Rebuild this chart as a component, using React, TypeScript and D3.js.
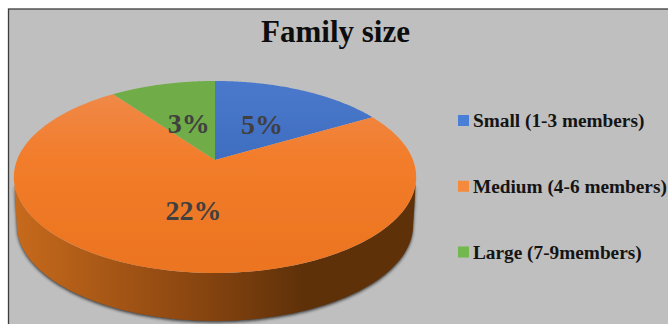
import React from "react";
import * as d3 from "d3";

const categories = ["Small (1-3 members)", "Medium (4-6 members)", "Large (7-9members)"];
const values = [5, 22, 3];
const valueLabels = ["5%", "22%", "3%"];
const sliceFills = ["url(#smallFill)", "url(#mediumFill)", "#6fac46"];
const legendColors = ["#4a7fd8", "#f58a3c", "#72b84e"];
const chartTitle = "Family size";

const WIDTH = 668;
const HEIGHT = 324;
const SERIF = "'Liberation Serif', serif";

// The pie lies on a tilted plane: a point on the unit disc is foreshortened towards the back.
const apex = { x: 215, y: 160 };
const spreadX = 198;
const spreadY = 93;
const tilt = 0.177;
const depth = 48;
const baseShrink = 0.985;

const project = (r: number, angle: number): [number, number] => {
  const u = r * Math.sin(angle);
  const v = r * Math.cos(angle);
  const w = 1 + tilt * v;
  return [apex.x + (spreadX * u) / w, apex.y - (spreadY * v) / w];
};

const rimPoints = (a0: number, a1: number) =>
  d3.range(0, 121).map((i) => project(1, a0 + ((a1 - a0) * i) / 120));

const line = d3.line<[number, number]>();

const arcs = d3.pie<number>().sort(null).startAngle(0).endAngle(2 * Math.PI)(values);

// Front wall of the extruded disc; its lower rim sits slightly inside the upper one.
const wallTop = rimPoints(Math.PI * 0.5 + 0.18, Math.PI * 1.5 - 0.18);
const wallBottom = wallTop
  .slice()
  .reverse()
  .map(([x, y]) => [apex.x + (x - apex.x) * baseShrink, y + depth] as [number, number]);
const wallPath = line([...wallTop, ...wallBottom]) + "Z";

// Offsets of each percentage from its slice's mid-angle anchor.
const labelSpots = [
  { r: 0.5, dx: 1, dy: 5 },
  { r: 0.32, dx: -7.5, dy: 23 },
  { r: 0.62, dx: 8, dy: 16 },
];

export default function App() {
  const legendY = d3.scalePoint<number>().domain([0, 1, 2]).range([120.5, 252]);
  return (
    <svg
      width={WIDTH}
      height={HEIGHT}
      viewBox={`0 0 ${WIDTH} ${HEIGHT}`}
      style={{ position: "absolute", left: 0, top: 0, display: "block" }}
    >
      <defs>
        <linearGradient id="wall" x1="14" x2="416" y1="0" y2="0" gradientUnits="userSpaceOnUse">
          <stop offset="0" stopColor="#c76a1c" />
          <stop offset="0.45" stopColor="#8a4610" />
          <stop offset="0.72" stopColor="#5f3109" />
          <stop offset="1" stopColor="#5f3109" />
        </linearGradient>
        <linearGradient id="mediumFill" x1="0" x2="0" y1="85" y2="273" gradientUnits="userSpaceOnUse">
          <stop offset="0" stopColor="#ef8a4c" />
          <stop offset="0.4" stopColor="#f27c2a" />
          <stop offset="1" stopColor="#ec7420" />
        </linearGradient>
        <linearGradient id="smallFill" x1="0" x2="0" y1="81" y2="160" gradientUnits="userSpaceOnUse">
          <stop offset="0" stopColor="#4a79cc" />
          <stop offset="1" stopColor="#3f6dc0" />
        </linearGradient>
        <filter id="rimShadow" x="-10%" y="-10%" width="120%" height="130%">
          <feGaussianBlur stdDeviation="1.8" />
        </filter>
        <filter id="soft" x="-5%" y="-5%" width="110%" height="110%">
          <feGaussianBlur stdDeviation="0.45" />
        </filter>
      </defs>

      <rect x={0} y={0} width={WIDTH} height={HEIGHT} fill="#ffffff" />
      <rect x={8.5} y={9} width={WIDTH} height={HEIGHT} fill="#bfbfbf" stroke="#3d3d3d" strokeWidth={1.3} />

      <text x={335.5} y={42} textAnchor="middle" fontFamily={SERIF} fontWeight="bold" fontSize={31} fill="#0d0d0d">
        {chartTitle}
      </text>

      <path d={wallPath} fill="#262626" transform="translate(0,1.5)" opacity={0.85} filter="url(#rimShadow)" />
      <path d={wallPath} fill="url(#wall)" />

      <g filter="url(#soft)">
        {arcs.map((a, i) => (
          <path
            key={categories[i]}
            d={line([[apex.x, apex.y], ...rimPoints(a.startAngle, a.endAngle)]) + "Z"}
            fill={sliceFills[i]}
          />
        ))}
      </g>

      {arcs.map((a, i) => {
        const mid = (a.startAngle + a.endAngle) / 2;
        const [x, y] = project(labelSpots[i].r, mid);
        return (
          <text
            key={valueLabels[i]}
            x={x + labelSpots[i].dx}
            y={y + labelSpots[i].dy}
            textAnchor="middle"
            dominantBaseline="middle"
            fontFamily={SERIF}
            fontWeight="bold"
            fontSize={28}
            fill="#404040"
          >
            {valueLabels[i]}
          </text>
        );
      })}

      {categories.map((c, i) => (
        <g key={c}>
          <rect x={458} y={legendY(i)! - 5.5} width={11} height={11} fill={legendColors[i]} />
          <text x={473} y={legendY(i)! + 6.5} fontFamily={SERIF} fontWeight="bold" fontSize={19.3} fill="#141414">
            {c}
          </text>
        </g>
      ))}
    </svg>
  );
}
